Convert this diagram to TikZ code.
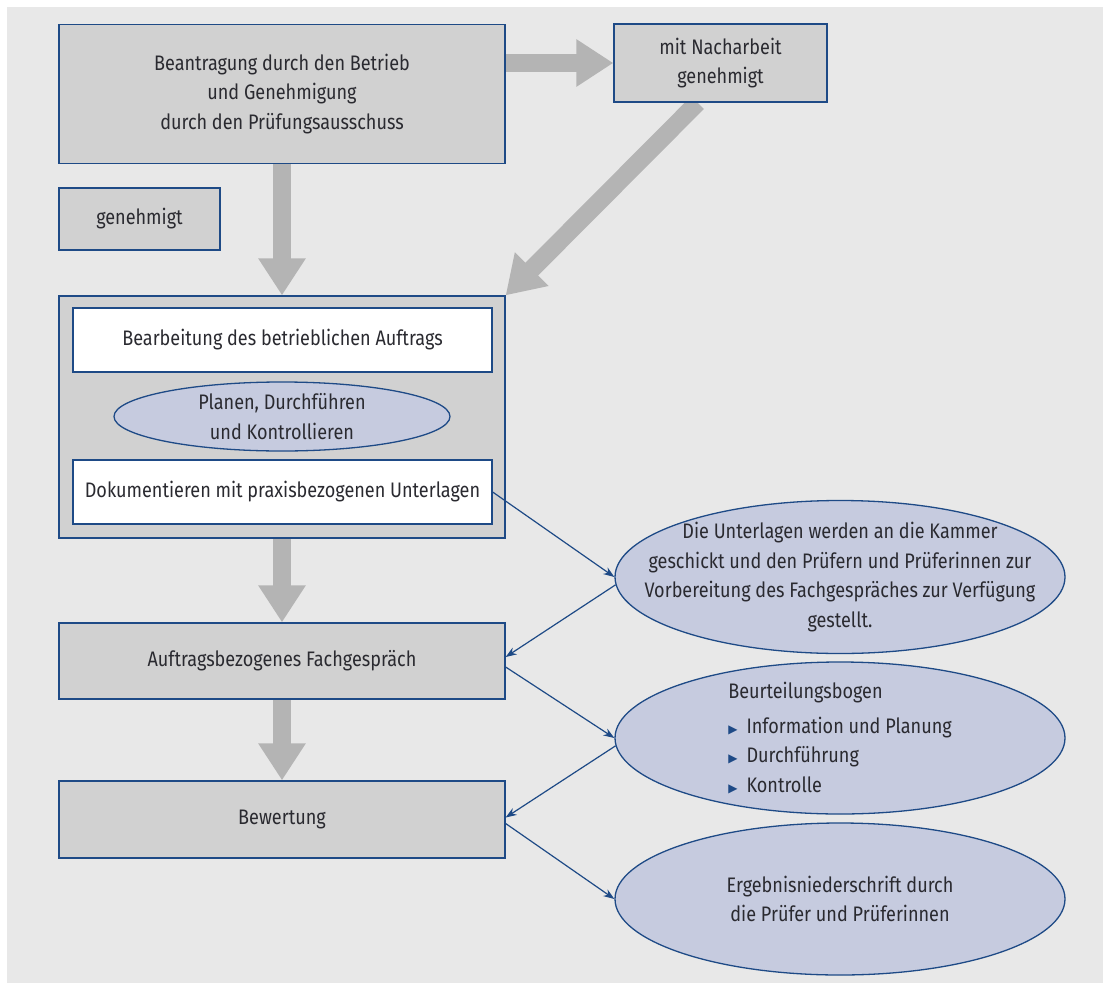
\documentclass[tikz,border=0pt]{standalone}
\usepackage{fontspec}
\setmainfont{Fira Sans}[FakeStretch=0.86]
\newfontfamily\symf{DejaVu Sans}
\usetikzlibrary{arrows.meta,shapes.geometric,backgrounds}
\definecolor{bggray}{HTML}{E8E8E8}
\definecolor{boxgray}{HTML}{D1D1D1}
\definecolor{arrgray}{HTML}{B4B4B4}
\definecolor{navy}{HTML}{1E4A86}
\definecolor{ellfill}{HTML}{C6CBDF}
\definecolor{txt}{HTML}{2A2A30}
\newcommand{\fs}{\fontsize{21}{29.5}\selectfont}
\newcommand{\bul}{{\color{navy}\symf\fontsize{12}{12}\selectfont ▶}\hspace{9pt}}
\tikzset{
  box/.style={draw=navy, line width=1.3pt, fill=boxgray, inner sep=0pt, align=center, text=txt, font=\fs},
  whitebox/.style={box, fill=white},
  ell/.style={ellipse, draw=navy, line width=1.3pt, fill=ellfill, inner xsep=-80pt, inner ysep=-25pt, align=center, text=txt, font=\fs},
  blockarrow/.style={draw=arrgray, line width=18pt, -{Triangle[length=37pt,width=45pt]}},
  conn/.style={draw=navy, line width=1.2pt, -{Stealth[length=11pt,width=8pt]}}
}
\begin{document}
\begin{tikzpicture}[x=1pt,y=-1pt]
\useasboundingbox (0,0) rectangle (1103,985);

\node[box, minimum width=446pt, minimum height=139pt] (top) at (282,94) {Beantragung durch den Betrieb\\und Genehmigung\\durch den Prüfungsausschuss};
\node[box, minimum width=213pt, minimum height=78pt] (nach) at (720.5,63) {mit Nacharbeit\\genehmigt};
\node[box, minimum width=161pt, minimum height=62pt] (gen) at (139.5,219) {genehmigt};

\node[box, minimum width=446pt, minimum height=242pt] (cont) at (282,417) {};
\node[whitebox, minimum width=419pt, minimum height=64pt] (bearb) at (282.5,340) {Bearbeitung des betrieblichen Auftrags};
\node[ell, minimum width=336pt, minimum height=69pt] (plan) at (282,416.5) {Planen, Durchführen\\und Kontrollieren};
\node[whitebox, minimum width=419pt, minimum height=64pt] (doku) at (282.5,492) {Dokumentieren mit praxisbezogenen Unterlagen};

\node[box, minimum width=446pt, minimum height=76pt] (fach) at (282,661) {Auftragsbezogenes Fachgespräch};
\node[box, minimum width=446pt, minimum height=77pt] (bew) at (282,819.5) {Bewertung};

\node[ell, minimum width=450pt, minimum height=153pt] (e1) at (840,577) {Die Unterlagen werden an die Kammer\\geschickt und den Prüfern und Prüferinnen zur\\Vorbereitung des Fachgespräches zur Verfügung\\gestellt.};
\node[ell, minimum width=450pt, minimum height=152pt, align=left] (e2) at (840,738) {Beurteilungsbogen\\[5pt]\bul Information und Planung\\\bul Durchführung\\\bul Kontrolle};
\node[ell, minimum width=450pt, minimum height=152pt] (e3) at (840,899) {Ergebnisniederschrift durch\\die Prüfer und Prüferinnen};

\begin{pgfonlayer}{background}
\fill[white] (0,0) rectangle (1103,985);
\fill[bggray] (7,7) rectangle (1103,983);
\draw[blockarrow] (top.south) -- (cont.north);
\draw[blockarrow] (top.east |- nach.west) -- (nach.west);
\draw[blockarrow] ([xshift=-23pt]nach.south) -- (cont.north east);
\draw[blockarrow] (cont.south) -- (fach.north);
\draw[blockarrow] (fach.south) -- (bew.north);
\end{pgfonlayer}

\draw[conn] (doku.east) -- (e1.west);
\draw[conn] (e1.182) -- ([yshift=4pt]fach.east);
\draw[conn] ([yshift=-6pt]fach.east) -- (e2.west);
\draw[conn] (e2.182) -- ([yshift=2pt]bew.east);
\draw[conn] ([yshift=-4pt]bew.east) -- (e3.west);
\end{tikzpicture}
\end{document}
